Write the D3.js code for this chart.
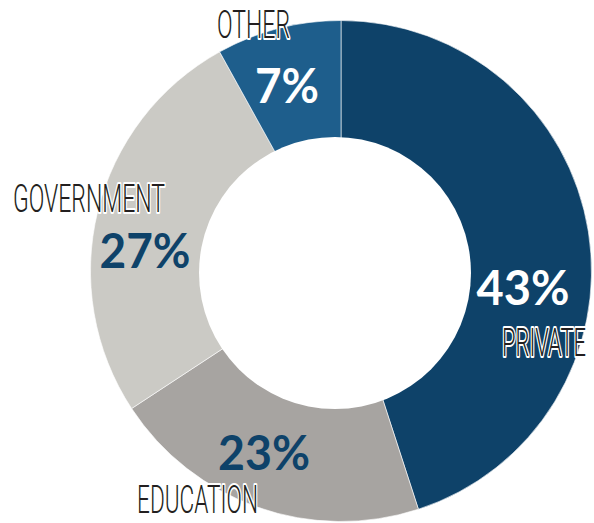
<!DOCTYPE html>
<html>
<head>
<meta charset="utf-8">
<script src="https://cdn.jsdelivr.net/npm/d3@7"></script>
<style>
  body { margin: 0; background: #fff; }
  .cat { font-family: Roboto, "Liberation Sans Narrow", sans-serif; font-weight: 300; font-size: 39px; fill: #231f20; stroke: #fff; stroke-width: 4px; paint-order: stroke; stroke-linejoin: round; }
  .pct { font-family: Lato, "Open Sans", sans-serif; font-weight: 700; font-size: 48px; }
</style>
</head>
<body>
<script>
// slices go clockwise from 12 o'clock
var categories = ["PRIVATE", "EDUCATION", "GOVERNMENT", "OTHER"];
// printed percentages
var labels = [43, 23, 27, 7];
// slice shares as actually drawn in the picture (measured angles)
var shares = [45, 20.75, 26.2, 8.05];
var colors = ["#0e4269", "#a7a4a1", "#cbcac5", "#1e5e8c"];
var pctColors = ["#ffffff", "#0e4269", "#0e4269", "#ffffff"];

// label placement (x, y baseline, textLength, anchor)
var pctPos = [[523, 305, 93], [264, 470, 92], [145, 268, 91], [287, 103, 64]];
var catPos = [[586, 356, 84, "end"], [137, 513, 121, "start"], [13, 212, 152, "start"], [217, 38, 73, "start"]];

var width = 594, height = 523;
var cx = 341, cy = 271, outerR = 250.5;
var hole = {x: 335, y: 273, r: 136};

var svg = d3.select("body").append("svg")
    .attr("width", width)
    .attr("height", height);

var pie = d3.pie().sort(null).value(function(d){ return d; });
var arc = d3.arc().innerRadius(0).outerRadius(outerR);

var g = svg.append("g")
    .attr("transform", "translate(" + cx + "," + cy + ")");

g.selectAll(".slice")
    .data(pie(shares))
    .enter()
    .append("path")
    .attr("class", "slice")
    .attr("d", arc)
    .style("fill", function(d, i){ return colors[i]; })
    .style("stroke", "rgba(255,255,255,0.6)")
    .style("stroke-width", 1);

svg.append("circle")
    .attr("cx", hole.x)
    .attr("cy", hole.y)
    .attr("r", hole.r)
    .style("fill", "#fff");

svg.selectAll(".pct")
    .data(labels)
    .enter()
    .append("text")
    .attr("class", "pct")
    .attr("x", function(d, i){ return pctPos[i][0]; })
    .attr("y", function(d, i){ return pctPos[i][1]; })
    .attr("text-anchor", "middle")
    .attr("textLength", function(d, i){ return pctPos[i][2]; })
    .attr("lengthAdjust", "spacingAndGlyphs")
    .style("fill", function(d, i){ return pctColors[i]; })
    .text(function(d){ return d + "%"; });

svg.selectAll(".cat")
    .data(categories)
    .enter()
    .append("text")
    .attr("class", "cat")
    .attr("x", function(d, i){ return catPos[i][0]; })
    .attr("y", function(d, i){ return catPos[i][1]; })
    .attr("text-anchor", function(d, i){ return catPos[i][3]; })
    .attr("textLength", function(d, i){ return catPos[i][2]; })
    .attr("lengthAdjust", "spacingAndGlyphs")
    .text(function(d){ return d; });
</script>
</body>
</html>
